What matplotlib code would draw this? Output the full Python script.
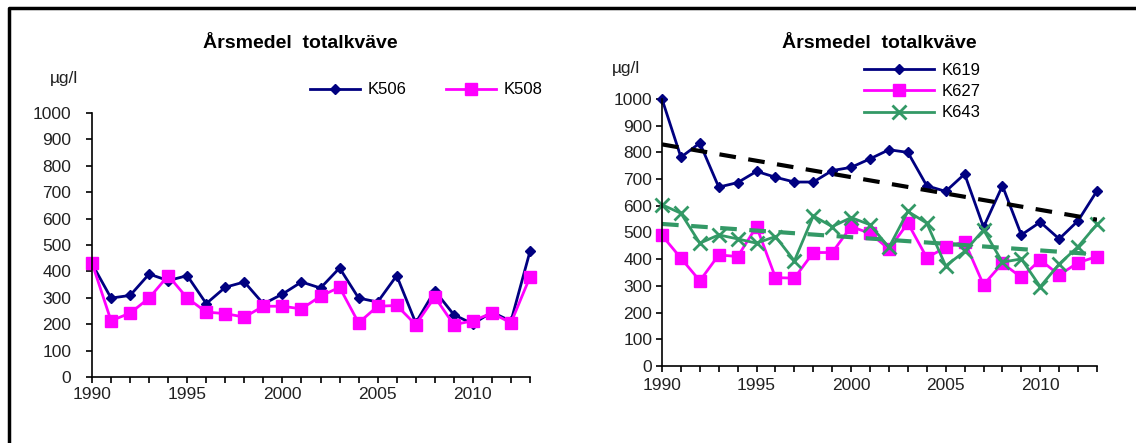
import matplotlib
matplotlib.use("Agg")
import matplotlib.pyplot as plt
from matplotlib.lines import Line2D
import numpy as np

plt.rcParams['font.family'] = ['Liberation Sans', 'DejaVu Sans']

years = list(range(1990, 2014))

# left panel
k506 = [429, 299, 309, 390, 365, 384, 278, 340, 360, 277, 314, 360, 337, 413,
        299, 284, 384, 205, 327, 236, 201, 246, 211, 476]
k508 = [432, 213, 242, 299, 384, 299, 246, 240, 227, 268, 268, 258, 306, 340,
        205, 268, 271, 198, 303, 198, 213, 242, 205, 379]

# right panel
k619 = [1000, 782, 835, 670, 687, 729, 707, 689, 689, 732, 744, 776, 810, 800,
        675, 654, 719, 520, 675, 491, 539, 476, 544, 656]
k627 = [489, 404, 319, 416, 410, 522, 331, 329, 425, 425, 522, 497, 438, 535,
        406, 444, 466, 304, 385, 332, 397, 341, 387, 410]
k643 = [604, 572, 460, 491, 476, 460, 485, 394, 562, 522, 556, 529, 444, 579,
        535, 375, 429, 510, 389, 401, 297, 382, 447, 531]

# trend lines (end points)
trendYears = [1990, 2013]
k619Trend = [830, 548]
k643Trend = [532, 418]

titleText = 'Årsmedel  totalkväve'
unitText = 'µg/l'
yTicks = list(range(0, 1001, 100))
xTickLabels = [1990, 1995, 2000, 2005, 2010]

navy = '#000080'
magenta = '#FF00FF'
green = '#339966'
textGrey = '#222222'

W, H = 1136, 443
fig = plt.figure(figsize=(W / 100, H / 100), dpi=100)

def px(x0, y0, x1, y1):
    # pixel box -> figure fraction rect
    return [x0 / W, 1 - y1 / H, (x1 - x0) / W, (y1 - y0) / H]

def styleAxis(ax, ypad, xpad):
    ax.set_xlim(1990, 2013)
    ax.set_ylim(0, 1000)
    ax.set_yticks(yTicks)
    ax.set_xticks(xTickLabels)
    ax.set_xticks(years, minor=True)
    ax.spines['top'].set_visible(False)
    ax.spines['right'].set_visible(False)
    for s in ['left', 'bottom']:
        ax.spines[s].set_linewidth(1.2)
    ax.tick_params(axis='both', which='both', direction='out', length=4, width=1.2,
                   labelsize=12.5, colors='black', labelcolor=textGrey)
    ax.tick_params(axis='y', pad=ypad)
    ax.tick_params(axis='x', pad=xpad)
    ax.patch.set_alpha(0)

# left chart
ax1 = fig.add_axes(px(92, 113, 530, 377))
ax1.plot(years, k506, color=navy, lw=2, marker='D', ms=5.5, label='K506', clip_on=False)
ax1.plot(years, k508, color=magenta, lw=2, marker='s', ms=8, label='K508', clip_on=False)
styleAxis(ax1, ypad=11, xpad=3)
fig.text(300 / W, 1 - 44 / H, titleText, ha='center', va='center', fontsize=14,
         fontweight='bold')
fig.text(50 / W, 1 - 78 / H, unitText, ha='left', va='center', fontsize=12.5, color=textGrey)
fig.legend(handles=ax1.get_lines(), loc='center', bbox_to_anchor=(426 / W, 1 - 90 / H),
           ncol=2, frameon=False, fontsize=12, handlelength=3.0, columnspacing=2.4,
           handletextpad=0.45)

# right chart
ax2 = fig.add_axes(px(662, 99, 1097, 366))
ax2.plot(years, k619, color=navy, lw=2, marker='D', ms=5.5, label='K619', clip_on=False)
ax2.plot(years, k627, color=magenta, lw=2, marker='s', ms=8, label='K627', clip_on=False)
ax2.plot(years, k643, color=green, lw=2, marker='x', ms=10, mew=2, label='K643', clip_on=False)
ax2.plot(trendYears, k619Trend, color='black', lw=3, ls=(0, (4, 3)))
ax2.plot(trendYears, k643Trend, color=green, lw=3, ls=(0, (4, 3)))
styleAxis(ax2, ypad=3, xpad=5)
fig.text(879 / W, 1 - 44 / H, titleText, ha='center', va='center', fontsize=14,
         fontweight='bold')
fig.text(612 / W, 1 - 68 / H, unitText, ha='left', va='center', fontsize=12.5, color=textGrey)
fig.legend(handles=ax2.get_lines()[:3], loc='center', bbox_to_anchor=(922 / W, 1 - 91.5 / H),
           ncol=1, frameon=False, fontsize=12, handlelength=4.2, handletextpad=0.45,
           labelspacing=0.38)

# outer frame (left and top edges)
fx = 9 / W
fy = 1 - 8 / H
fig.add_artist(Line2D([fx, fx, 1], [0, fy, fy], color='black', lw=2.5,
                      transform=fig.transFigure))

fig.savefig('out.png', dpi=100)
